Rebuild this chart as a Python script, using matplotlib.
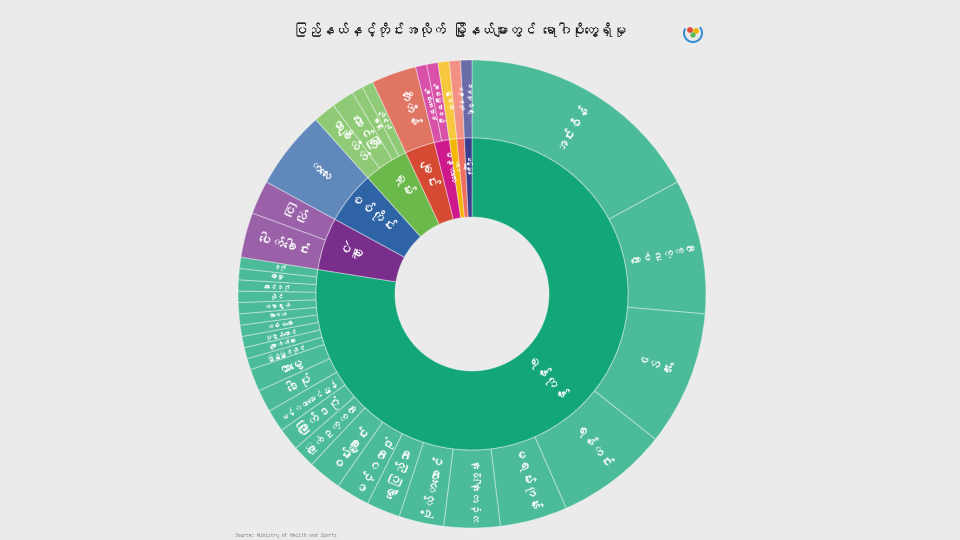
import matplotlib
matplotlib.use('Agg')
import matplotlib.pyplot as plt
from matplotlib.patches import Wedge, Circle, Arc
from matplotlib import font_manager
import matplotlib.colors as mcolors
import numpy as np

# ---------------- data ----------------
title = "ပြည်နယ်နှင့်တိုင်းအလိုက် မြို့နယ်များတွင် ရောဂါပိုးတွေ့ရှိမှု"
source = "Source: Ministry of Health and Sports"

regions = ['ရန်ကုန်', 'ပဲခူး', 'စစ်ကိုင်း', 'ရှမ်း', 'ချင်း', 'မန္တလေး', 'ကရင်', 'မကွေး', 'နေပြည်တော်']
region_colors = ['#13a679', '#7a2e8c', '#2e63a6', '#6cb94b', '#d64933', '#cd198c', '#f5b700', '#f06e5f', '#3a3e8c']

yangon_towns = ['အင်းစိန်', 'တောင်ဥက္ကလာ', 'ဗဟန်း', 'ရန်ကင်း', 'မရမ်းကုန်း', 'သင်္ဃန်းကျွန်း',
                'ဗိုလ်တထောင်', 'ရွှေပြည်သာ', 'မင်္ဂလာဒုံ', 'စမ်းချောင်း', 'မြောက်ဥက္ကလာ', 'မြောက်ဒဂုံ',
                'မင်္ဂလာတောင်ညွန့်', 'ဒေါပုံ', 'တာမွေ', 'ကြည့်မြင်တိုင်', 'ကျောက်တံတား', 'ပုဇွန်တောင်',
                'လမ်းမတော်', 'သာကေတ', 'ကမာရွတ်', 'လှိုင်', 'တောင်ဒဂုံ', 'ကော့မှူး', 'ဒဂုံ']
yangon_cases = [22, 12, 12, 10, 6, 5, 4, 3, 3, 3, 2, 2, 2, 2, 2, 1, 1, 1, 1, 1, 1, 1, 1, 1, 1]
bago_towns = ['ပေါက်ခေါင်း', 'ပြည်']
bago_cases = [4, 3]
sagaing_towns = ['ကလေး']
sagaing_cases = [7]
shan_towns = ['တာချီလိတ်', 'တောင်ကြီး', 'လားရှိုး', 'ကျိုင်းတုံ']
shan_cases = [2, 2, 1, 1]
chin_towns = ['တီးတိန်']
chin_cases = [4]
mandalay_towns = ['ချမ်းအေးသာဇံ', 'ချမ်းမြသာစည်']
mandalay_cases = [1, 1]
kayin_towns = ['မြဝတီ']
kayin_cases = [1]
magway_towns = ['ပခုက္ကူ']
magway_cases = [1]
npt_towns = ['ဇမ္ဗူသီရိ']
npt_cases = [1]

children_towns = [yangon_towns, bago_towns, sagaing_towns, shan_towns, chin_towns,
                  mandalay_towns, kayin_towns, magway_towns, npt_towns]
children_cases = [yangon_cases, bago_cases, sagaing_cases, shan_cases, chin_cases,
                  mandalay_cases, kayin_cases, magway_cases, npt_cases]

# ---------------- fonts ----------------
def find_font(cp):
    try:
        from fontTools.ttLib import TTFont
    except Exception:
        return None
    for f in font_manager.fontManager.ttflist:
        try:
            tt = TTFont(f.fname, fontNumber=0, lazy=True)
            cmap = tt.getBestCmap()
            if cmap and cp in cmap:
                return f.name
        except Exception:
            pass
    return None

mm = find_font(0x1000)
families = ([mm] if mm else []) + ['DejaVu Sans']
plt.rcParams['font.family'] = families

# ---------------- layout ----------------
BG = '#ebebeb'
W, H = 960, 540
CX, CY = 472, H - 294
R0, R1, R2 = 77, 156, 234

fig = plt.figure(figsize=(W / 100, H / 100), dpi=100, facecolor=BG)
ax = fig.add_axes([0, 0, 1, 1])
ax.set_xlim(0, W)
ax.set_ylim(0, H)
ax.set_aspect('equal')
ax.axis('off')
ax.set_facecolor(BG)

total = sum(sum(c) for c in children_cases)
deg = 360.0 / total

def lighten(c, a=0.24):
    r, g, b = mcolors.to_rgb(c)
    return (r + (1 - r) * a, g + (1 - g) * a, b + (1 - b) * a)

edge = (1, 1, 1, 0.35)
fig.canvas.draw()
renderer = fig.canvas.get_renderer()

def place_label(text, t0, t1, rin, rout, fsmax, rfrac=0.5):
    tm = (t0 + t1) / 2.0
    rm = rin + (rout - rin) * rfrac
    width_px = rm * np.radians(t1 - t0)
    length_px = (rout - rin) * 0.85
    fs = min(fsmax, width_px * 0.5)
    if fs < 2.5:
        return
    x = CX + rm * np.sin(np.radians(tm))
    y = CY + rm * np.cos(np.radians(tm))
    rot = 90 - tm
    while rot <= -90:
        rot += 180
    while rot > 90:
        rot -= 180
    t = ax.text(x, y, text, ha='center', va='center', color='white', fontsize=fs,
                rotation=0, rotation_mode='anchor')
    bb = t.get_window_extent(renderer)
    if bb.width > length_px:
        fs = fs * length_px / bb.width
        if fs < 2.5:
            t.remove()
            return
        t.set_fontsize(fs)
    t.set_rotation(rot)

start = 0.0
for reg, col, towns, cases in zip(regions, region_colors, children_towns, children_cases):
    rstart = start
    for tn, cs in zip(towns, cases):
        t0, t1 = start, start + cs * deg
        ax.add_patch(Wedge((CX, CY), R2, 90 - t1, 90 - t0, width=R2 - R1,
                           facecolor=lighten(col), edgecolor=edge, lw=0.8))
        place_label(tn, t0, t1, R1, R2, 9.5)
        start = t1
    ax.add_patch(Wedge((CX, CY), R1, 90 - start, 90 - rstart, width=R1 - R0,
                       facecolor=col, edgecolor=edge, lw=0.8))
    frac = 0.45 if (start - rstart) > 180 else 0.65
    place_label(reg, rstart, start, R0, R1, 10, rfrac=frac)

# title and source
fig.text(460 / W, 1 - 30 / H, title, ha='center', va='center', fontsize=10, color='#222222')
fig.text(235 / W, 1 - 536 / H, source, ha='left', va='center', fontsize=4, color='#666666')

# small logo
lx, ly = 693, H - 33
ax.add_patch(Arc((lx, ly), 18, 18, theta1=150, theta2=400, color='#3a8fd0', lw=1.5))
ax.add_patch(Circle((lx - 3, ly + 3), 2.2, color='#e04a3a'))
ax.add_patch(Circle((lx + 3, ly + 2), 2.2, color='#f0b400'))
ax.add_patch(Circle((lx, ly - 2), 2.0, color='#5cb85c'))

fig.savefig('out.png', dpi=100, facecolor=BG)
